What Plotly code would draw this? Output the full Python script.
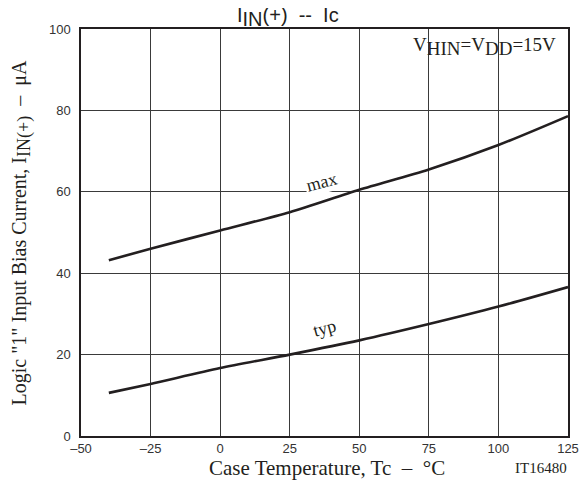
import plotly.graph_objects as go

temp = [-40, -25, 0, 25, 50, 75, 100, 125]
i_max = [43.2, 46.0, 50.5, 55.0, 60.5, 65.5, 71.5, 78.6]
i_typ = [10.6, 12.8, 16.7, 20.0, 23.5, 27.5, 31.8, 36.6]

x_ticks = [-50, -25, 0, 25, 50, 75, 100, 125]
x_ticktext = ["–50", "–25", "0", "25", "50", "75", "100", "125"]
y_ticks = [0, 20, 40, 60, 80, 100]

fig = go.Figure()
for ys in (i_max, i_typ):
    fig.add_trace(go.Scatter(x=temp, y=ys, mode="lines",
                             line=dict(color="#231f20", width=2.6, shape="spline", smoothing=0.8),
                             showlegend=False, hoverinfo="skip"))

serif = "Liberation Serif"
sans = "Liberation Sans"
ink = "#231f20"
sp2 = "\u00a0\u00a0"

fig.update_layout(
    width=571, height=473,
    margin=dict(l=73, r=11, t=21, b=45, autoexpand=False),
    paper_bgcolor="white", plot_bgcolor="white",
    xaxis=dict(range=[-50, 125], tickvals=x_ticks, ticktext=x_ticktext,
               showgrid=True, gridcolor="#3a3a3a", gridwidth=1,
               showline=True, linecolor=ink, linewidth=1.5, mirror=True,
               ticks="", zeroline=False, automargin=False,
               tickfont=dict(family=sans, size=13, color="#333")),
    yaxis=dict(range=[0, 100], tickvals=y_ticks,
               showgrid=True, gridcolor="#3a3a3a", gridwidth=1,
               showline=True, linecolor=ink, linewidth=1.5, mirror=True,
               ticks="", zeroline=False, ticklabelstandoff=6, automargin=False,
               tickfont=dict(family=sans, size=13, color="#333")),
)

anns = [
    dict(text="I<sub><span style='font-size:20px'>IN</span></sub>(+)" + sp2 + "--" + sp2 + "Ic",
         x=0.425, y=1.0, xref="paper", yref="paper",
         xanchor="center", yanchor="bottom", yshift=-3, showarrow=False,
         font=dict(family=sans, size=20, color=ink)),
    dict(text="V<sub><span style='font-size:19px'>HIN</span></sub>=V<sub><span style='font-size:19px'>DD</span></sub>=15V",
         x=1.0, y=1.0, xref="paper", yref="paper",
         xanchor="right", yanchor="top", xshift=-10, yshift=-3, showarrow=False,
         font=dict(family=serif, size=19, color=ink)),
    dict(text="Case Temperature, Tc" + sp2 + "–" + sp2 + "°C", x=0.5, y=0, xref="paper", yref="paper",
         xanchor="center", yanchor="top", xshift=2, yshift=-18, showarrow=False,
         font=dict(family=serif, size=21, color=ink)),
    dict(text="IT16480", x=1.0, y=0, xref="paper", yref="paper",
         xanchor="right", yanchor="top", xshift=1, yshift=-22, showarrow=False,
         font=dict(family=serif, size=15, color=ink)),
    dict(text="Logic \"1\" Input Bias Current, I<sub><span style='font-size:18px'>IN(+)</span></sub>" + sp2 + "–" + sp2 + "μA",
         x=0, y=0.5,
         xref="paper", yref="paper", xanchor="center", yanchor="middle", xshift=-60, yshift=-1,
         textangle=-90, showarrow=False,
         font=dict(family=serif, size=20, color=ink)),
    dict(text="max", x=36.5, y=62.5, xref="x", yref="y", showarrow=False, textangle=-15,
         bgcolor="white", font=dict(family=serif, size=18, color=ink)),
    dict(text="typ", x=37.5, y=26.5, xref="x", yref="y", showarrow=False, textangle=-15,
         font=dict(family=serif, size=18, color=ink)),
]
fig.update_layout(annotations=anns)

fig.write_html("out.html")
